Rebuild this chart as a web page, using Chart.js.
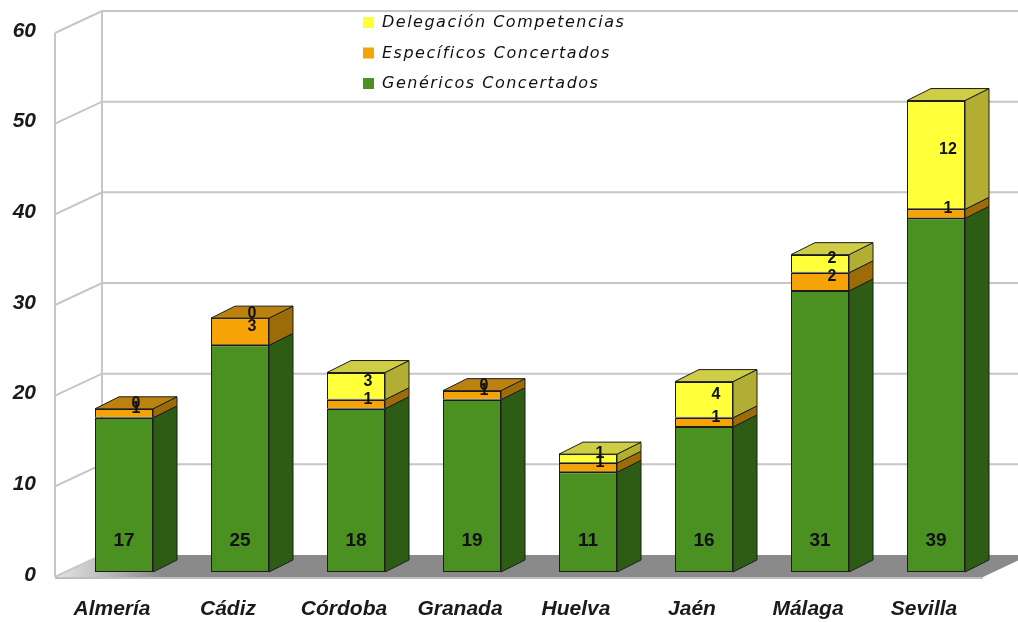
<!DOCTYPE html>
<html>
<head>
<meta charset="utf-8">
<script src="https://cdn.jsdelivr.net/npm/chart.js@4.4.1/dist/chart.umd.min.js"></script>
<style>
  html, body { margin: 0; padding: 0; background: #fff; }
  #wrap { width: 1018px; height: 622px; position: relative; }
</style>
</head>
<body>
<div id="wrap"><canvas id="chart3d"></canvas></div>
<script>
// Chart data
var provincias = ['Almería', 'Cádiz', 'Córdoba', 'Granada', 'Huelva', 'Jaén', 'Málaga', 'Sevilla'];
var genericos = [17, 25, 18, 19, 11, 16, 31, 39];
var especificos = [1, 3, 1, 1, 1, 1, 2, 1];
var delegacion = [0, 0, 3, 0, 1, 4, 2, 12];
var yTicks = [0, 10, 20, 30, 40, 50, 60];

// face colours: front, top, side
var palette = [
    { front: '#4b9121', top: '#3b761b', side: '#2d5c15' },
    { front: '#f5a306', top: '#bb820e', side: '#9d6c0a' },
    { front: '#ffff3a', top: '#cfcc45', side: '#b1ae33' }
];

var DEPTH_X = 24, DEPTH_Y = -12;   // bar depth
var WALL_FX = -11, WALL_FY = 5;    // front plane offset from bars
var WALL_BX = 36, WALL_BY = -17;   // back plane offset from bars
var EDGE = '#1c1c1c';
var AXIS_FONT = 'italic bold 21px "Liberation Sans"';

function poly(ctx, pts, fill, stroke, lw) {
    ctx.beginPath();
    ctx.moveTo(pts[0][0], pts[0][1]);
    for (var i = 1; i < pts.length; i++) ctx.lineTo(pts[i][0], pts[i][1]);
    ctx.closePath();
    if (fill) { ctx.fillStyle = fill; ctx.fill(); }
    if (stroke) { ctx.strokeStyle = stroke; ctx.lineWidth = lw || 1; ctx.stroke(); }
}

var walls = {
    id: 'walls',
    beforeDatasetsDraw: function(chart) {
        var ctx = chart.ctx, a = chart.chartArea, ys = chart.scales.y;
        var fl = a.left + WALL_FX, bl = a.left + WALL_BX, br = chart.width + 5;
        ctx.save();
        // floor
        var g = ctx.createLinearGradient(fl, 0, bl + 60, 0);
        g.addColorStop(0, '#e6e6e6');
        g.addColorStop(1, '#8a8a8a');
        poly(ctx, [[fl + 3, a.bottom + WALL_FY], [a.right + WALL_FX, a.bottom + WALL_FY],
                   [a.right + WALL_BX, a.bottom + WALL_BY], [bl, a.bottom + WALL_BY]], g);
        ctx.strokeStyle = '#bdbdbd';
        ctx.lineWidth = 2;
        ctx.beginPath();
        ctx.moveTo(fl, a.bottom + WALL_FY + 1);
        ctx.lineTo(a.right + WALL_FX, a.bottom + WALL_FY + 1);
        ctx.stroke();
        // grid lines on side and back wall
        ctx.strokeStyle = '#c6c6c6';
        ctx.lineWidth = 2;
        yTicks.forEach(function(v) {
            if (v === 0) return;
            var y = ys.getPixelForValue(v);
            ctx.beginPath();
            ctx.moveTo(fl, y + WALL_FY);
            ctx.lineTo(bl, y + WALL_BY);
            ctx.lineTo(br, y + WALL_BY);
            ctx.stroke();
        });
        // wall edges
        ctx.beginPath();
        ctx.moveTo(fl, a.top + WALL_FY);
        ctx.lineTo(fl, a.bottom + WALL_FY);
        ctx.moveTo(bl, a.top + WALL_BY);
        ctx.lineTo(bl, a.bottom + WALL_BY);
        ctx.moveTo(fl, a.bottom + WALL_FY);
        ctx.lineTo(bl, a.bottom + WALL_BY);
        ctx.stroke();
        // value axis labels, on the front plane
        ctx.fillStyle = '#1a1a1a';
        ctx.font = AXIS_FONT;
        ctx.textAlign = 'right';
        ctx.textBaseline = 'middle';
        yTicks.forEach(function(v) {
            ctx.fillText(v, 36, ys.getPixelForValue(v) + 3);
        });
        ctx.restore();
    }
};

var boxes = {
    id: 'boxes',
    afterDatasetsDraw: function(chart) {
        var ctx = chart.ctx;
        var metas = chart.data.datasets.map(function(d, i) { return chart.getDatasetMeta(i); });
        ctx.save();
        ctx.lineJoin = 'round';
        for (var i = 0; i < provincias.length; i++) {
            var topEl = null, topIdx = 0;
            metas.forEach(function(m, d) {
                var el = m.data[i];
                var l = el.x - el.width / 2, r = el.x + el.width / 2;
                if (chart.data.datasets[d].data[i] > 0) {
                    poly(ctx, [[r, el.y], [r + DEPTH_X, el.y + DEPTH_Y],
                               [r + DEPTH_X, el.base + DEPTH_Y], [r, el.base]],
                         palette[d].side, EDGE, 1);
                    // segment seam on the front face
                    ctx.strokeStyle = EDGE;
                    ctx.lineWidth = 1;
                    ctx.beginPath();
                    ctx.moveTo(l, Math.round(el.y) + 0.5);
                    ctx.lineTo(r, Math.round(el.y) + 0.5);
                    ctx.stroke();
                    topEl = el; topIdx = d;
                }
            });
            if (topEl) {
                var l = topEl.x - topEl.width / 2, rr = topEl.x + topEl.width / 2;
                poly(ctx, [[l, topEl.y], [rr, topEl.y], [rr + DEPTH_X, topEl.y + DEPTH_Y],
                           [l + DEPTH_X, topEl.y + DEPTH_Y]], palette[topIdx].top, EDGE, 1);
            }
        }
        // value labels
        ctx.fillStyle = '#111';
        ctx.textAlign = 'center';
        ctx.textBaseline = 'middle';
        metas.forEach(function(m, d) {
            m.data.forEach(function(el, i) {
                var v = chart.data.datasets[d].data[i];
                if (d === 0) {
                    ctx.font = 'bold 19px "Liberation Sans"';
                    ctx.fillText(v, el.x, el.base - 31);
                } else {
                    ctx.font = 'bold 16px "Liberation Sans"';
                    ctx.fillText(v, el.x + DEPTH_X / 2, (el.y + el.base) / 2 + DEPTH_Y / 2 + 1);
                }
            });
        });
        // legend, reversed order
        ctx.textAlign = 'left';
        ctx.font = 'italic 16px "DejaVu Sans"';
        ctx.letterSpacing = '1.5px';
        var rows = [2, 1, 0];
        rows.forEach(function(d, k) {
            var y = 23 + k * 30.5;
            ctx.fillStyle = palette[d].front;
            ctx.fillRect(363, y - 6, 11, 11);
            ctx.fillStyle = '#111';
            ctx.fillText(chart.data.datasets[d].label, 382, y);
        });
        ctx.restore();
    }
};

var ctx = document.getElementById('chart3d').getContext('2d');
new Chart(ctx, {
    type: 'bar',
    data: {
        labels: provincias,
        datasets: [
            { label: 'Genéricos Concertados', data: genericos, backgroundColor: palette[0].front },
            { label: 'Específicos Concertados', data: especificos, backgroundColor: palette[1].front },
            { label: 'Delegación Competencias', data: delegacion, backgroundColor: palette[2].front }
        ]
    },
    options: {
        responsive: true,
        maintainAspectRatio: false,
        animation: false,
        datasets: {
            bar: { categoryPercentage: 1, barPercentage: 0.5, borderColor: EDGE, borderWidth: 1, borderSkipped: false }
        },
        layout: { padding: { top: 28, right: 24, bottom: 0, left: 0 } },
        plugins: { legend: { display: false }, tooltip: { enabled: false } },
        scales: {
            x: {
                stacked: true,
                grid: { display: false, drawTicks: false },
                border: { display: false },
                ticks: { color: '#1a1a1a', padding: 25, labelOffset: -12, font: { family: 'Liberation Sans', size: 21, weight: 'bold', style: 'italic' } },
                afterFit: function(s) { s.height = 50; }
            },
            y: {
                stacked: true,
                min: 0,
                max: 60,
                grid: { display: false, drawTicks: false },
                border: { display: false },
                ticks: { display: false, stepSize: 10 },
                afterFit: function(s) { s.width = 66; }
            }
        }
    },
    plugins: [walls, boxes]
});
</script>
</body>
</html>
